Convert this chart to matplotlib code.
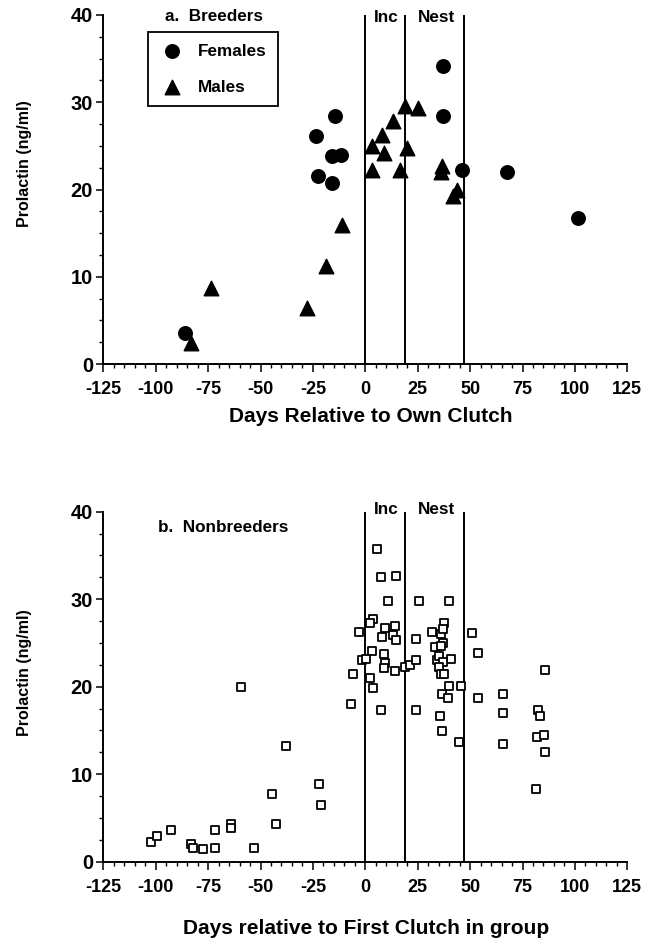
import matplotlib
matplotlib.use("Agg")
import matplotlib.pyplot as plt
from matplotlib.ticker import MultipleLocator

plt.rcParams['font.family'] = ['Liberation Sans', 'DejaVu Sans']
plt.rcParams['font.weight'] = 'bold'

# ---- Data: panel a (breeders) ----
female_days = [-85.8, -23.5, -14.4, -22.7, -16.0, -11.6, -15.7, 36.9, 36.9, 46.2, 67.4, 101.3]
female_prl = [3.5, 26.1, 28.4, 21.5, 23.8, 24.0, 20.7, 34.1, 28.4, 22.2, 22.0, 16.7]

male_days = [-83.0, -73.4, -27.8, -18.8, -11.1, 19.0, 25.0, 13.2, 8.2, 3.1, 8.9, 20.0,
             3.1, 16.4, 36.6, 36.0, 43.8, 41.9]
male_prl = [2.45, 8.7, 6.4, 11.2, 15.9, 29.6, 29.3, 27.9, 26.2, 25.0, 24.2, 24.8,
            22.2, 22.2, 22.7, 22.0, 19.9, 19.2]

# ---- Data: panel b (nonbreeders) ----
nb_days = [-102.2, -99.3, -92.6, -83.3, -82.2, -77.4, -71.5, -71.5, -64.2, -64.2,
           -59.1, -53.0, -44.7, -42.8, -37.9, -22.1, -21.1,
           5.5, 7.4, 14.7, 10.6, 25.7, 40.1, 3.9, 2.3, -2.8, 9.5, 14.0, 8.2, 13.2,
           14.7, 3.1, -1.7, 0.4, 9.0, 9.5, 9.0, 14.0, -6.0, -6.9, 2.3, 3.9, 7.4,
           18.8, 21.4, 24.2, 24.2, 24.2, 31.8, 36.1, 37.7, 37.1, 36.9, 33.1, 36.1,
           34.2, 35.0, 40.9, 36.9, 35.0, 36.1, 37.4, 40.1, 36.6, 39.5, 35.8, 36.6,
           45.8, 44.9, 51.0, 53.7, 53.7, 65.6, 65.6, 65.6, 85.7, 82.5, 83.3, 82.1,
           85.3, 85.7, 81.6]
nb_prl = [2.3, 2.9, 3.6, 2.0, 1.6, 1.45, 3.6, 1.6, 4.3, 3.9,
          20.0, 1.6, 7.7, 4.3, 13.2, 8.9, 6.5,
          35.7, 32.5, 32.7, 29.8, 29.8, 29.8, 27.7, 27.3, 26.3, 26.7, 26.9, 25.7, 25.9,
          25.3, 24.1, 23.0, 23.2, 23.7, 22.7, 22.1, 21.8, 21.4, 18.0, 21.0, 19.9, 17.3,
          22.2, 22.5, 25.5, 23.1, 17.3, 26.2, 26.0, 27.3, 26.6, 25.0, 24.5, 24.6,
          23.1, 23.5, 23.2, 22.8, 22.3, 21.4, 21.5, 20.1, 19.2, 18.7, 16.7, 14.9,
          20.1, 13.7, 26.1, 23.9, 18.7, 19.2, 17.0, 13.5, 21.9, 17.3, 16.7, 14.3,
          14.5, 12.5, 8.3]

phase_lines = [0, 19, 47]
x_ticks = [-125, -100, -75, -50, -25, 0, 25, 50, 75, 100, 125]
y_ticks = [0, 10, 20, 30, 40]

W, H = 645, 943
fig = plt.figure(figsize=(W / 100, H / 100), dpi=100)

left = 103.3 / W
width = 524.0 / W
ax1 = fig.add_axes([left, 1 - 364 / H, width, 349 / H])
ax2 = fig.add_axes([left, 1 - 861.7 / H, width, 350 / H])

TXT = 12.3


def style(ax):
    ax.set_xlim(-125, 125)
    ax.set_ylim(0, 40)
    ax.spines['top'].set_visible(False)
    ax.spines['right'].set_visible(False)
    for s in ('left', 'bottom'):
        ax.spines[s].set_linewidth(1.4)
    ax.set_xticks(x_ticks)
    ax.set_xticklabels([str(t) for t in x_ticks])
    ax.set_yticks(y_ticks)
    ax.xaxis.set_minor_locator(MultipleLocator(5))
    ax.yaxis.set_minor_locator(MultipleLocator(2.5))
    ax.tick_params(axis='x', which='major', direction='out', length=5.5, width=1.1,
                   pad=7, labelsize=13)
    ax.tick_params(axis='y', which='major', direction='out', length=5, width=1.1,
                   pad=2.5, labelsize=14.5)
    ax.tick_params(which='minor', direction='out', length=2.8, width=1.0)
    for lab in ax.get_xticklabels() + ax.get_yticklabels():
        lab.set_fontweight('bold')
    for x in phase_lines:
        ax.axvline(x, color='black', lw=1.4, zorder=1)


style(ax1)
style(ax2)

# Panel a
h_f = ax1.scatter(female_days, female_prl, marker='o', s=95, color='black', zorder=3,
                  label='Females')
h_m = ax1.scatter(male_days, male_prl, marker='^', s=110, color='black', zorder=3,
                  label='Males')
leg = ax1.legend(handles=[h_f, h_m], loc='upper left', bbox_to_anchor=(0.085, 0.95),
                 frameon=True, fancybox=False, edgecolor='black', framealpha=1,
                 prop={'weight': 'bold', 'size': TXT}, labelspacing=1.25,
                 handletextpad=0.8, borderpad=0.65, handlelength=1.5,
                 borderaxespad=0)
leg.get_frame().set_linewidth(1.3)
ax1.text(-95.5, 39.8, 'a.  Breeders', ha='left', va='center', fontsize=TXT,
         fontweight='bold')
ax1.text(10.0, 39.7, 'Inc', ha='center', va='center', fontsize=TXT, fontweight='bold')
ax1.text(34.0, 39.7, 'Nest', ha='center', va='center', fontsize=TXT, fontweight='bold')

# Panel b
ax2.scatter(nb_days, nb_prl, marker='s', s=26, facecolor='white', edgecolor='black',
            linewidths=1.3, zorder=3)
ax2.text(-98.8, 38.25, 'b.  Nonbreeders', ha='left', va='center', fontsize=TXT,
         fontweight='bold')
ax2.text(10.0, 40.2, 'Inc', ha='center', va='center', fontsize=TXT, fontweight='bold',
         clip_on=False)
ax2.text(34.0, 40.2, 'Nest', ha='center', va='center', fontsize=TXT, fontweight='bold',
         clip_on=False)

# Axis labels
fig.text(25 / W, 1 - 164 / H, 'Prolactin (ng/ml)', rotation=90, ha='center',
         va='center', fontsize=11.5, fontweight='bold')
fig.text(25 / W, 1 - 673 / H, 'Prolactin (ng/ml)', rotation=90, ha='center',
         va='center', fontsize=11.5, fontweight='bold')
fig.text(371 / W, 1 - 416 / H, 'Days Relative to Own Clutch', ha='center',
         va='center', fontsize=15, fontweight='bold')
fig.text(366 / W, 1 - 928 / H, 'Days relative to First Clutch in group', ha='center',
         va='center', fontsize=15, fontweight='bold')

fig.savefig('out.png', dpi=100, facecolor='white')
